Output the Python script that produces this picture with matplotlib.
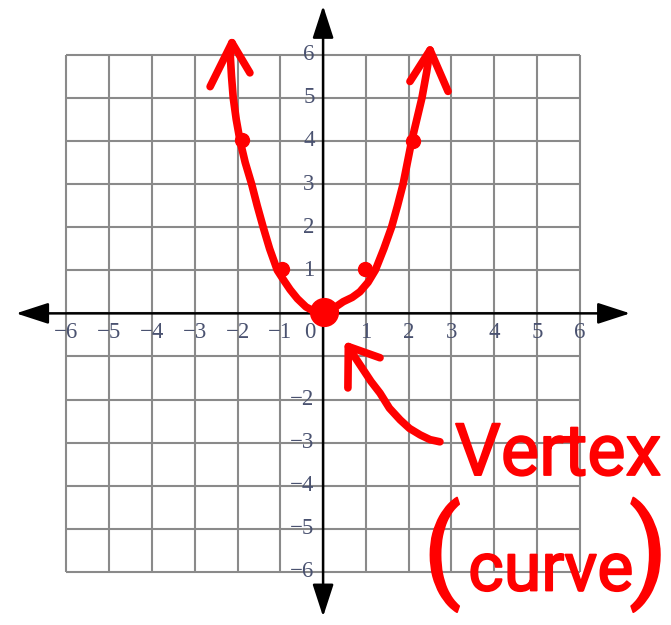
import matplotlib.pyplot as plt
from matplotlib.patches import FancyArrowPatch
import matplotlib.patheffects as pe

# Grid and tick values
grid_vals = list(range(-6, 7))
xtick_vals = [-6, -5, -4, -3, -2, -1, 1, 2, 3, 4, 5, 6]
ytick_vals = [1, 2, 3, 4, 5, 6, -2, -3, -4, -5, -6]

# Hand-drawn parabola, left tip down to vertex and up to right tip
curve_x = [-2.13, -2.17, -2.14, -2.10, -2.03, -1.94, -1.82, -1.67, -1.54, -1.40,
           -1.25, -1.07, -0.90, -0.77, -0.60, -0.40, -0.20, 0.02,
           0.25, 0.47, 0.68, 0.86, 1.05, 1.22, 1.42, 1.60, 1.74, 1.87, 1.97,
           2.07, 2.19, 2.31, 2.42, 2.50]
curve_y = [6.28, 6.00, 5.50, 5.00, 4.50, 4.00, 3.50, 3.00, 2.50, 2.00,
           1.50, 1.00, 0.74, 0.55, 0.34, 0.15, 0.04, 0.00,
           0.12, 0.27, 0.37, 0.50, 0.72, 1.00, 1.50, 2.00, 2.50, 3.00, 3.50,
           4.00, 4.50, 5.00, 5.60, 6.11]

# Arrow barbs at each end of the curve
left_barb_x = [-2.64, -2.13, -1.71]
left_barb_y = [5.26, 6.28, 5.58]
right_barb_x = [2.03, 2.50, 2.92]
right_barb_y = [5.38, 6.11, 5.15]

# Plotted points and vertex
dots_x = [-0.97, 0.98, -1.90, 2.11]
dots_y = [1.03, 1.04, 4.03, 3.99]
vertex_x, vertex_y = 0.02, 0.04

# Pointer from the label to the vertex
pointer_x = [2.73, 2.50, 2.27, 2.02, 1.80, 1.55, 1.33, 1.12, 0.94, 0.76, 0.59]
pointer_y = [-2.98, -2.93, -2.82, -2.67, -2.47, -2.20, -1.85, -1.58, -1.31, -1.04, -0.77]
pointer_barb_x = [0.58, 0.59, 1.33]
pointer_barb_y = [-1.73, -0.77, -1.03]

RED = '#ff0000'
GRID = '#8a8a8a'
LABEL = '#4a5270'

fig = plt.figure(figsize=(6.71, 6.25), dpi=100)
ax = fig.add_axes([0, 0, 1, 1])
ax.set_xlim(-7.55, 8.13)
ax.set_ylim(-7.23, 7.27)
ax.axis('off')

# grid
ax.vlines(grid_vals, -6, 6, color=GRID, lw=1.5, zorder=1)
ax.hlines(grid_vals, -6, 6, color=GRID, lw=1.5, zorder=1)

# axes with arrowheads at both ends
for start, end in [((-7.24, 0), (7.24, 0)), ((0, -7.1), (0, 7.2))]:
    arr = FancyArrowPatch(start, end, arrowstyle='<|-|>,head_length=20,head_width=6.5',
                          mutation_scale=1, color='black', lw=1.8, zorder=2)
    ax.add_patch(arr)

# tick labels
tick_font = dict(family='Liberation Serif', fontsize=16.5, color=LABEL, zorder=3)
for v in xtick_vals:
    ax.text(v, -0.45, f'\u2212{abs(v)}' if v < 0 else str(v),
            ha='center', va='center', **tick_font)
ax.text(-0.3, -0.45, '0', ha='center', va='center', **tick_font)
for v in ytick_vals:
    ax.text(-0.2, v, f'\u2212{abs(v)}' if v < 0 else str(v),
            ha='right', va='center', **tick_font)

# parabola
line_kw = dict(color=RED, lw=5.5, solid_capstyle='round', solid_joinstyle='round', zorder=4)
ax.plot(curve_x, curve_y, **line_kw)
ax.plot(left_barb_x, left_barb_y, **line_kw)
ax.plot(right_barb_x, right_barb_y, **line_kw)
ax.plot(dots_x, dots_y, 'o', color=RED, ms=10, zorder=5)
ax.plot(vertex_x, vertex_y, 'o', color=RED, ms=20, zorder=5)

# pointer arrow
ax.plot(pointer_x, pointer_y, **line_kw)
ax.plot(pointer_barb_x, pointer_barb_y, **line_kw)

# handwritten-style labels, slightly thickened strokes
hand = dict(family='Roboto', color=RED, zorder=6,
            path_effects=[pe.withStroke(linewidth=1.3, foreground=RED)])
ax.text(3.08, -3.75, 'Vertex', fontsize=52, ha='left', va='baseline', **hand)
ax.text(2.34, -5.6, '(', fontsize=80, ha='left', va='center', **hand)
ax.text(3.39, -6.43, 'curve', fontsize=49, ha='left', va='baseline', **hand)
ax.text(7.15, -5.6, ')', fontsize=80, ha='left', va='center', **hand)

fig.savefig('out.png', dpi=100)
